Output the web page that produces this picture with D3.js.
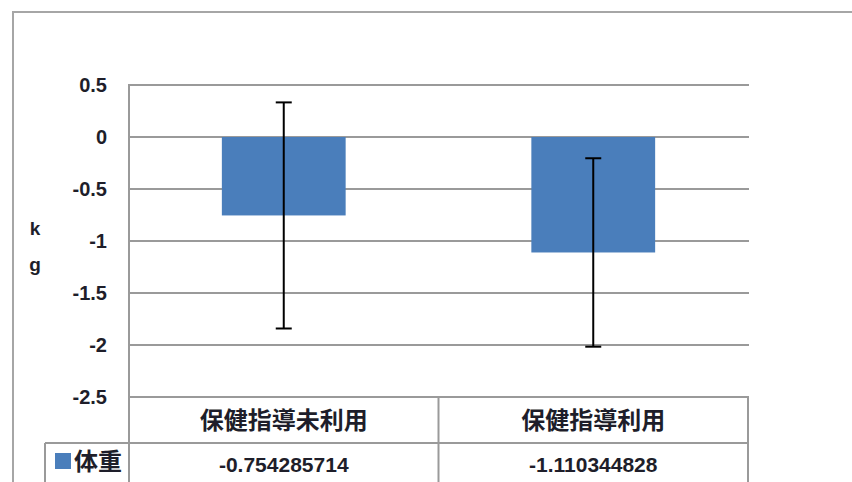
<!DOCTYPE html>
<html>
<head>
<meta charset="utf-8">
<script src="https://cdn.jsdelivr.net/npm/d3@7"></script>
<style>
  body { margin: 0; background: #fff; }
  svg { display: block; font-family: "Liberation Sans", "Noto Sans CJK JP", sans-serif; }
</style>
</head>
<body>
<svg id="chart" width="852" height="482"></svg>
<script>
// data
const categories = ["保健指導未利用", "保健指導利用"];
const seriesName = "体重";
const values = [-0.754285714, -1.110344828];
const valueLabels = ["-0.754285714", "-1.110344828"];
const errors = [1.087, 0.906];
const yTicks = [0.5, 0, -0.5, -1, -1.5, -2, -2.5];

const svg = d3.select("#chart");
const plot = { left: 129, right: 748, top: 85, bottom: 397 };
const rowH = 46;
const textColor = "#1e1e2a";
const lineColor = "#9a9a9a";

// outer chart frame (runs off the right and bottom)
svg.append("path")
    .attr("d", "M13,500 L13,12 L870,12")
    .attr("fill", "none")
    .attr("stroke", "#a6a6a6")
    .attr("stroke-width", 2);

const y = d3.scaleLinear().domain([-2.5, 0.5]).range([plot.bottom, plot.top]);
const x = d3.scaleBand().domain(categories).range([plot.left, plot.right]);

// gridlines
svg.append("g").selectAll("line")
    .data(yTicks)
    .enter().append("line")
    .attr("x1", plot.left).attr("x2", plot.right + 1)
    .attr("y1", d => y(d)).attr("y2", d => y(d))
    .attr("stroke", lineColor)
    .attr("stroke-width", 2);

// y axis labels
svg.append("g").selectAll("text")
    .data(yTicks)
    .enter().append("text")
    .attr("x", 107)
    .attr("y", d => y(d))
    .attr("dy", "0.36em")
    .attr("text-anchor", "end")
    .attr("font-size", 20)
    .attr("font-weight", "bold")
    .attr("fill", textColor)
    .text(d => d3.format("")(d).replace("−", "-"));

// axis title, stacked letters
svg.append("g").selectAll("text")
    .data(["k", "g"])
    .enter().append("text")
    .attr("x", 35)
    .attr("y", (d, i) => 235 + i * 36)
    .attr("text-anchor", "middle")
    .attr("font-size", 19)
    .attr("font-weight", "bold")
    .attr("fill", textColor)
    .text(d => d);

// bars
const barW = x.bandwidth() * 0.4;
svg.append("g").selectAll("rect")
    .data(values)
    .enter().append("rect")
    .attr("x", (d, i) => x(categories[i]) + x.bandwidth() / 2 - barW / 2)
    .attr("y", d => y(Math.max(0, d)))
    .attr("width", barW)
    .attr("height", d => Math.abs(y(d) - y(0)))
    .attr("fill", "#4a7ebb");

// error bars
const eb = svg.append("g").attr("stroke", "#000").attr("stroke-width", 2);
values.forEach((v, i) => {
    const cx = x(categories[i]) + x.bandwidth() / 2;
    const top = y(v + errors[i]), bot = y(v - errors[i]);
    eb.append("line").attr("x1", cx).attr("x2", cx).attr("y1", top).attr("y2", bot);
    eb.append("line").attr("x1", cx - 8).attr("x2", cx + 8).attr("y1", top).attr("y2", top);
    eb.append("line").attr("x1", cx - 8).attr("x2", cx + 8).attr("y1", bot).attr("y2", bot);
});

// data table
const tbl = svg.append("g").attr("stroke", lineColor).attr("stroke-width", 2);
const r1 = plot.bottom, r2 = plot.bottom + rowH, r3 = plot.bottom + 2 * rowH;
tbl.append("line").attr("x1", plot.left).attr("x2", plot.left).attr("y1", plot.top - 1).attr("y2", r3);
tbl.append("line").attr("x1", 45).attr("x2", plot.right + 1).attr("y1", r2).attr("y2", r2);
tbl.append("line").attr("x1", 45).attr("x2", 45).attr("y1", r2).attr("y2", r3);
categories.forEach(c => {
    tbl.append("line").attr("x1", x(c) + x.bandwidth()).attr("x2", x(c) + x.bandwidth())
        .attr("y1", r1).attr("y2", r3);
});

svg.append("g").selectAll("text")
    .data(categories)
    .enter().append("text")
    .attr("x", d => x(d) + x.bandwidth() / 2)
    .attr("y", (r1 + r2) / 2)
    .attr("dy", "0.36em")
    .attr("text-anchor", "middle")
    .attr("font-size", 24)
    .attr("font-weight", "bold")
    .attr("fill", textColor)
    .text(d => d);

svg.append("g").selectAll("text")
    .data(valueLabels)
    .enter().append("text")
    .attr("x", (d, i) => x(categories[i]) + x.bandwidth() / 2)
    .attr("y", (r2 + r3) / 2 - 2)
    .attr("dy", "0.36em")
    .attr("text-anchor", "middle")
    .attr("font-size", 21)
    .attr("font-weight", "bold")
    .attr("fill", textColor)
    .text(d => d);

// legend key in the table
svg.append("rect")
    .attr("x", 55).attr("y", 453)
    .attr("width", 16).attr("height", 16)
    .attr("fill", "#4a7ebb");
svg.append("text")
    .attr("x", 74).attr("y", 461)
    .attr("dy", "0.36em")
    .attr("font-size", 24)
    .attr("font-weight", "bold")
    .attr("fill", textColor)
    .text(seriesName);
</script>
</body>
</html>
